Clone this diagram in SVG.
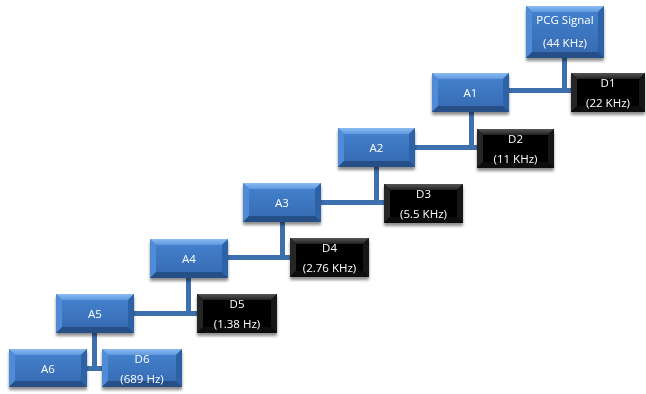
<svg xmlns="http://www.w3.org/2000/svg" width="646" height="394" viewBox="0 0 646 394">
<defs>
<filter id="sh" x="-20%" y="-20%" width="140%" height="150%">
<feGaussianBlur in="SourceAlpha" stdDeviation="1.6"/>
<feOffset dx="0" dy="2.5" result="b"/>
<feComponentTransfer><feFuncA type="linear" slope="0.45"/></feComponentTransfer>
<feMerge><feMergeNode/><feMergeNode in="SourceGraphic"/></feMerge>
</filter>
<linearGradient id="bf" x1="0" y1="0" x2="0" y2="1">
<stop offset="0" stop-color="#4583cf"/><stop offset="1" stop-color="#3569b0"/>
</linearGradient>
<linearGradient id="bt" x1="0" y1="0" x2="0" y2="1">
<stop offset="0" stop-color="#8bbcf2"/><stop offset="1" stop-color="#5e98df"/>
</linearGradient>
<linearGradient id="kt" x1="0" y1="0" x2="0" y2="1">
<stop offset="0" stop-color="#555"/><stop offset="1" stop-color="#222"/>
</linearGradient>
</defs>
<style>
.bl .face{fill:url(#bf)}
.bl .top{fill:url(#bt)}
.bl .lft{fill:#4f8bd6}
.bl .rgt{fill:#2e62a6}
.bl .bot{fill:#264f88}
.bk .face{fill:#000}
.bk .top{fill:url(#kt)}
.bk .lft{fill:#262626}
.bk .rgt{fill:#181818}
.bk .bot{fill:#0c0c0c}
text{font-family:"Open Sans","Liberation Sans",sans-serif;font-size:11.5px;fill:#fff;text-anchor:middle}
.cn{stroke:#3e6fae;stroke-width:5;fill:none}
</style>

<g id="connectors">
<path class="cn" d="M564.5 58 V90.5 M508 90.5 H572"/>
<path class="cn" d="M471.5 112 V147.5 M415 147.5 H478"/>
<path class="cn" d="M376.5 167 V202.5 M321 202.5 H384"/>
<path class="cn" d="M282.5 222 V257.5 M227 257.5 H291"/>
<path class="cn" d="M188.5 278 V313.5 M133 313.5 H198"/>
<path class="cn" d="M94.5 333 V368.5 M86 368.5 H103"/>
</g>

<g id="pcg" class="bl" filter="url(#sh)" transform="translate(526,6)">
<rect class="face" width="78" height="52"/>
<polygon class="top" points="0,0 78,0 72,6 6,6"/>
<polygon class="lft" points="0,0 6,6 6,46 0,52"/>
<polygon class="rgt" points="78,0 78,52 72,46 72,6"/>
<polygon class="bot" points="0,52 6,46 72,46 78,52"/>
<text x="39" y="18">PCG Signal</text>
<text x="39" y="41">(44 KHz)</text>
</g>

<g id="a1" class="bl" filter="url(#sh)" transform="translate(432,73)">
<rect class="face" width="77" height="39"/>
<polygon class="top" points="0,0 77,0 71,6 6,6"/>
<polygon class="lft" points="0,0 6,6 6,33 0,39"/>
<polygon class="rgt" points="77,0 77,39 71,33 71,6"/>
<polygon class="bot" points="0,39 6,33 71,33 77,39"/>
<text x="38.5" y="24">A1</text>
</g>
<g id="d1" class="bk" filter="url(#sh)" transform="translate(571,73)">
<rect class="face" width="74" height="39"/>
<polygon class="top" points="0,0 74,0 68,6 6,6"/>
<polygon class="lft" points="0,0 6,6 6,33 0,39"/>
<polygon class="rgt" points="74,0 74,39 68,33 68,6"/>
<polygon class="bot" points="0,39 6,33 68,33 74,39"/>
<text x="37" y="13.5">D1</text>
<text x="37" y="33.5">(22 KHz)</text>
</g>

<g id="a2" class="bl" filter="url(#sh)" transform="translate(338,128)">
<rect class="face" width="77" height="39"/>
<polygon class="top" points="0,0 77,0 71,6 6,6"/>
<polygon class="lft" points="0,0 6,6 6,33 0,39"/>
<polygon class="rgt" points="77,0 77,39 71,33 71,6"/>
<polygon class="bot" points="0,39 6,33 71,33 77,39"/>
<text x="38.5" y="24">A2</text>
</g>
<g id="d2" class="bk" filter="url(#sh)" transform="translate(477,129)">
<rect class="face" width="77" height="39"/>
<polygon class="top" points="0,0 77,0 71,6 6,6"/>
<polygon class="lft" points="0,0 6,6 6,33 0,39"/>
<polygon class="rgt" points="77,0 77,39 71,33 71,6"/>
<polygon class="bot" points="0,39 6,33 71,33 77,39"/>
<text x="38.5" y="13.5">D2</text>
<text x="38.5" y="33.5">(11 KHz)</text>
</g>

<g id="a3" class="bl" filter="url(#sh)" transform="translate(243,183)">
<rect class="face" width="78" height="39"/>
<polygon class="top" points="0,0 78,0 72,6 6,6"/>
<polygon class="lft" points="0,0 6,6 6,33 0,39"/>
<polygon class="rgt" points="78,0 78,39 72,33 72,6"/>
<polygon class="bot" points="0,39 6,33 72,33 78,39"/>
<text x="39" y="24">A3</text>
</g>
<g id="d3" class="bk" filter="url(#sh)" transform="translate(384,184)">
<rect class="face" width="79" height="39"/>
<polygon class="top" points="0,0 79,0 73,6 6,6"/>
<polygon class="lft" points="0,0 6,6 6,33 0,39"/>
<polygon class="rgt" points="79,0 79,39 73,33 73,6"/>
<polygon class="bot" points="0,39 6,33 73,33 79,39"/>
<text x="39.5" y="13.5">D3</text>
<text x="39.5" y="33.5">(5.5 KHz)</text>
</g>

<g id="a4" class="bl" filter="url(#sh)" transform="translate(150,239)">
<rect class="face" width="78" height="39"/>
<polygon class="top" points="0,0 78,0 72,6 6,6"/>
<polygon class="lft" points="0,0 6,6 6,33 0,39"/>
<polygon class="rgt" points="78,0 78,39 72,33 72,6"/>
<polygon class="bot" points="0,39 6,33 72,33 78,39"/>
<text x="39" y="24">A4</text>
</g>
<g id="d4" class="bk" filter="url(#sh)" transform="translate(290,238)">
<rect class="face" width="79" height="39"/>
<polygon class="top" points="0,0 79,0 73,6 6,6"/>
<polygon class="lft" points="0,0 6,6 6,33 0,39"/>
<polygon class="rgt" points="79,0 79,39 73,33 73,6"/>
<polygon class="bot" points="0,39 6,33 73,33 79,39"/>
<text x="39.5" y="13.5">D4</text>
<text x="39.5" y="33.5">(2.76 KHz)</text>
</g>

<g id="a5" class="bl" filter="url(#sh)" transform="translate(56,294)">
<rect class="face" width="78" height="39"/>
<polygon class="top" points="0,0 78,0 72,6 6,6"/>
<polygon class="lft" points="0,0 6,6 6,33 0,39"/>
<polygon class="rgt" points="78,0 78,39 72,33 72,6"/>
<polygon class="bot" points="0,39 6,33 72,33 78,39"/>
<text x="39" y="24">A5</text>
</g>
<g id="d5" class="bk" filter="url(#sh)" transform="translate(197,294)">
<rect class="face" width="80" height="39"/>
<polygon class="top" points="0,0 80,0 74,6 6,6"/>
<polygon class="lft" points="0,0 6,6 6,33 0,39"/>
<polygon class="rgt" points="80,0 80,39 74,33 74,6"/>
<polygon class="bot" points="0,39 6,33 74,33 80,39"/>
<text x="40" y="13.5">D5</text>
<text x="40" y="33.5">(1.38 Hz)</text>
</g>

<g id="a6" class="bl" filter="url(#sh)" transform="translate(9,349)">
<rect class="face" width="78" height="38"/>
<polygon class="top" points="0,0 78,0 72,6 6,6"/>
<polygon class="lft" points="0,0 6,6 6,32 0,38"/>
<polygon class="rgt" points="78,0 78,38 72,32 72,6"/>
<polygon class="bot" points="0,38 6,32 72,32 78,38"/>
<text x="39" y="23.5">A6</text>
</g>
<g id="d6" class="bl" filter="url(#sh)" transform="translate(102,349)">
<rect class="face" width="80" height="38"/>
<polygon class="top" points="0,0 80,0 74,6 6,6"/>
<polygon class="lft" points="0,0 6,6 6,32 0,38"/>
<polygon class="rgt" points="80,0 80,38 74,32 74,6"/>
<polygon class="bot" points="0,38 6,32 74,32 80,38"/>
<text x="40" y="13.5">D6</text>
<text x="40" y="33.5">(689 Hz)</text>
</g>
</svg>
